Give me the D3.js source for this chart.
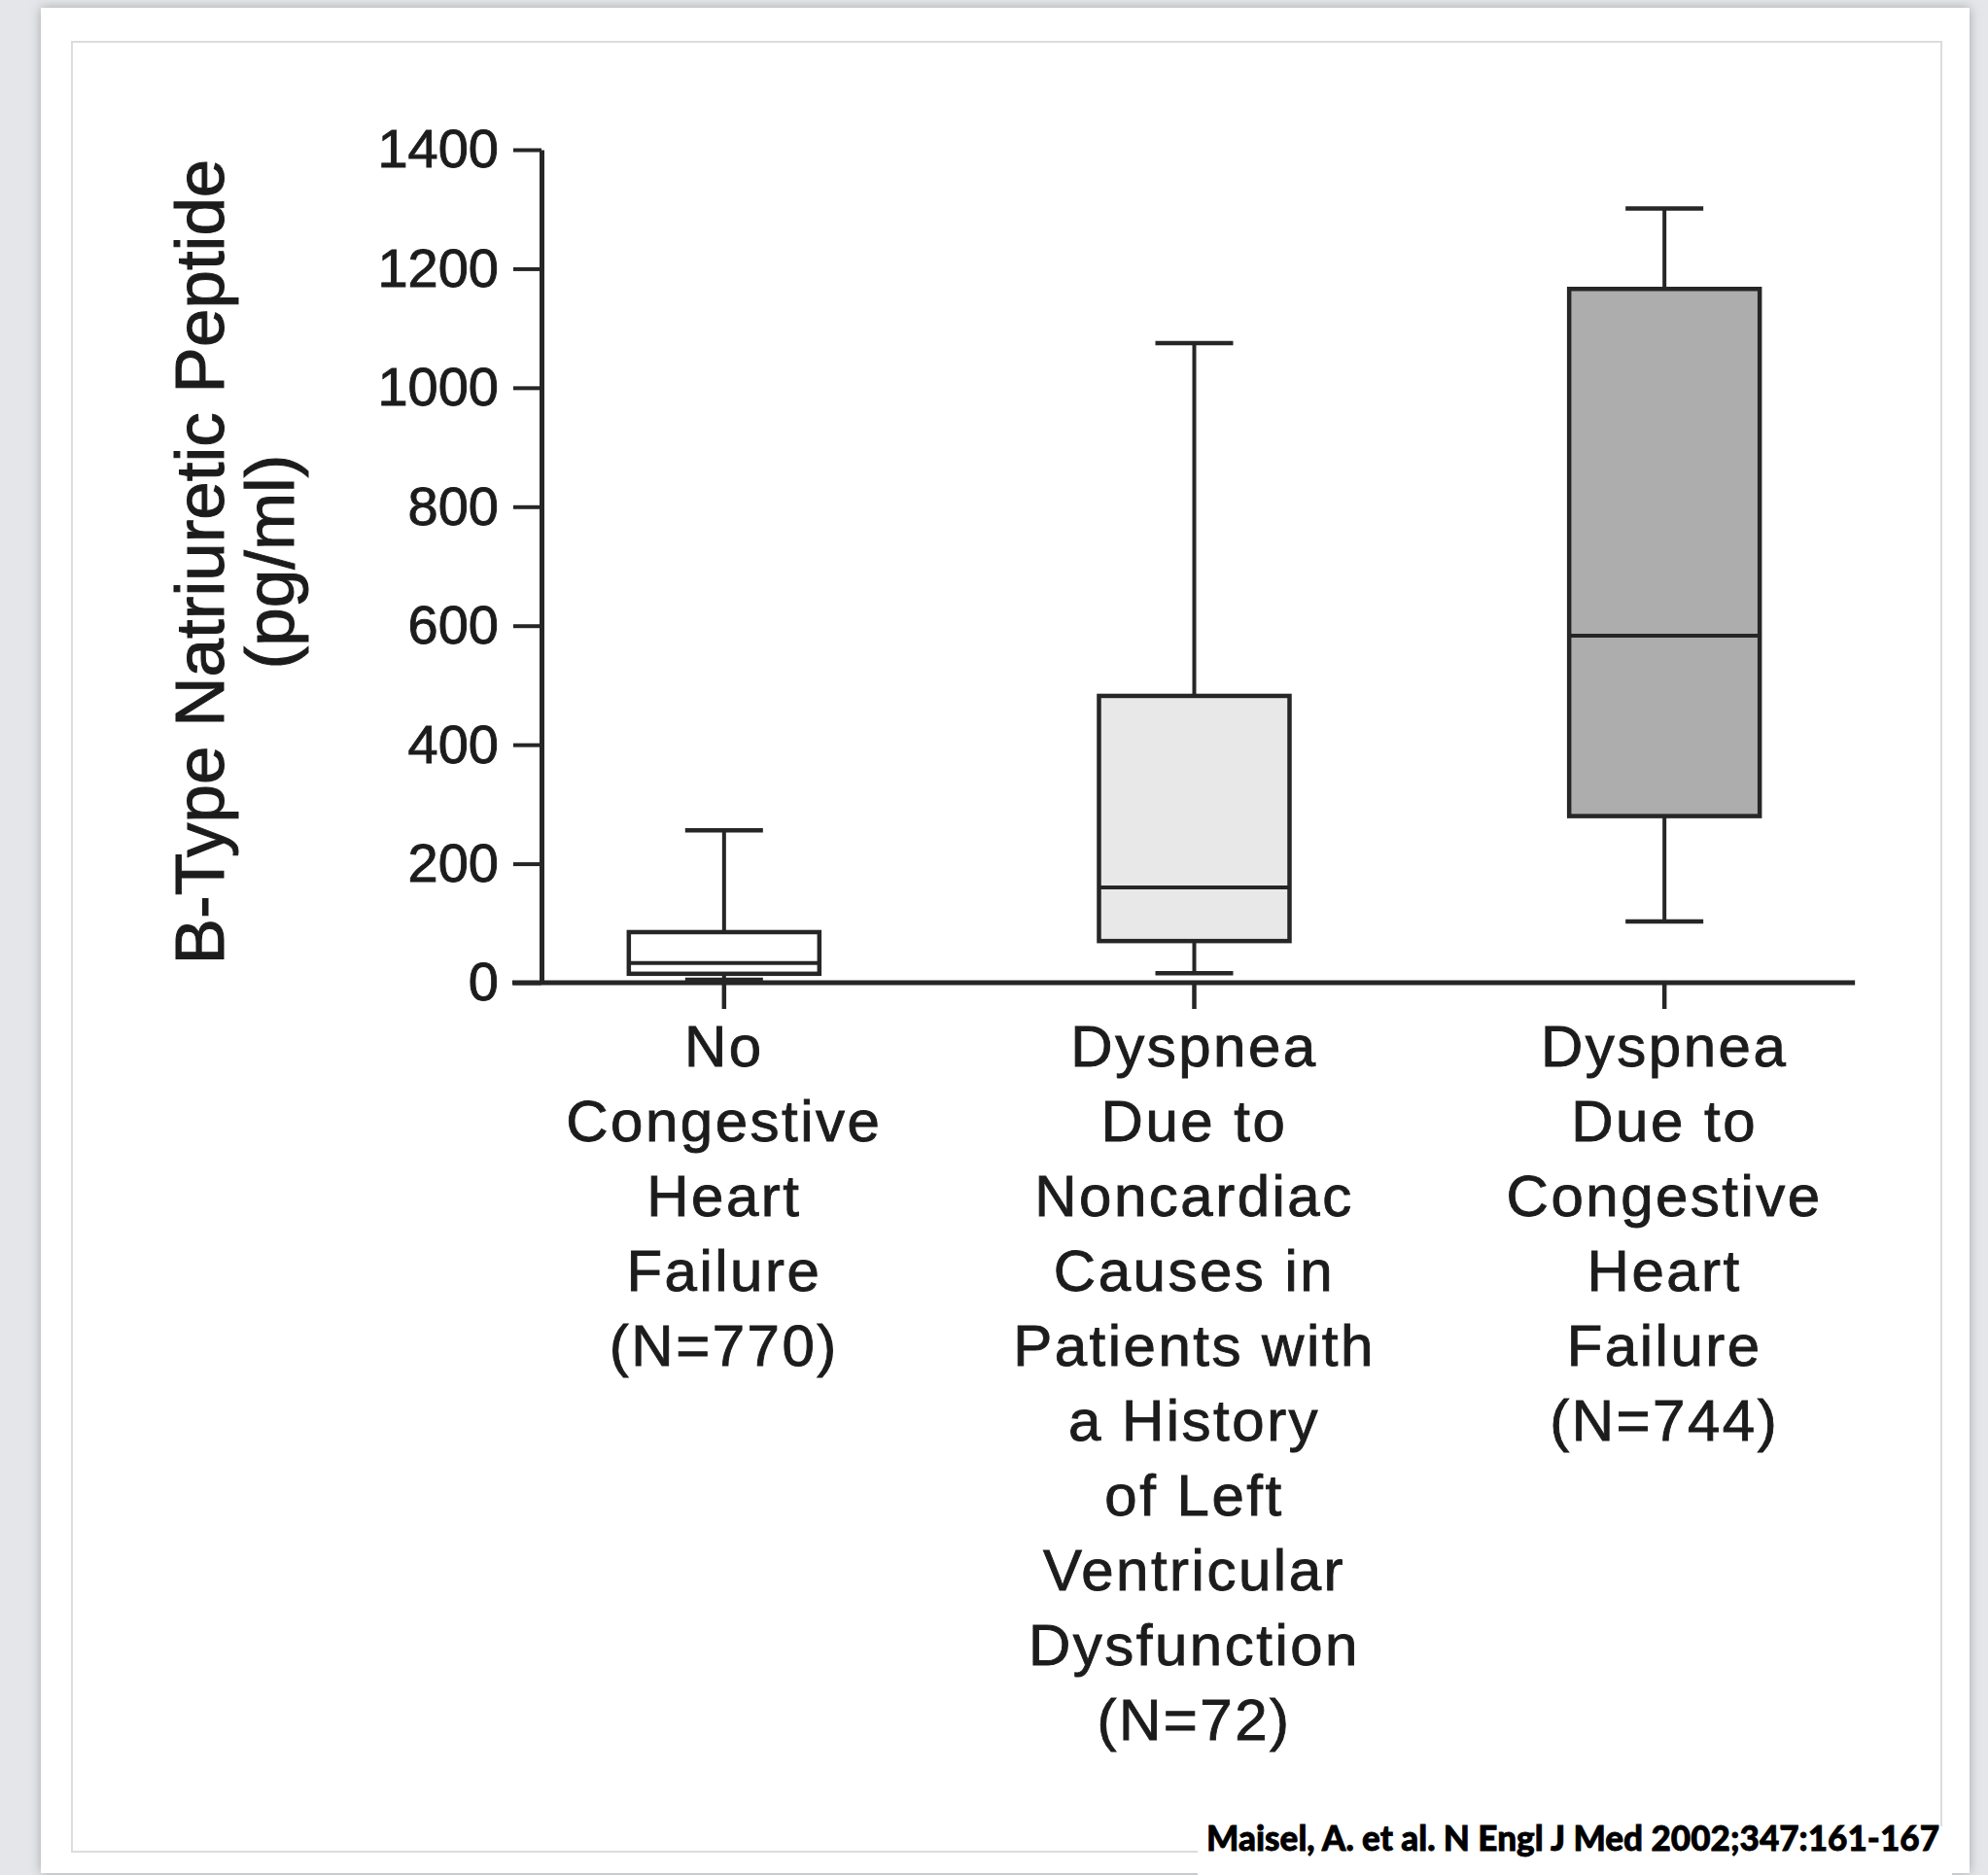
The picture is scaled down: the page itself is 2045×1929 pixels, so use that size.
<!DOCTYPE html>
<html>
<head>
<meta charset="utf-8">
<script src="https://cdn.jsdelivr.net/npm/d3@7"></script>
<style>
  html, body { margin: 0; padding: 0; background: #e4e6e9; }
  svg { display: block; }
</style>
</head>
<body>
<svg id="chart" width="2045" height="1929"></svg>
<script>
// Group labels, one entry per line of the wrapped axis label
const categoryLines = [
  ["No", "Congestive", "Heart", "Failure", "(N=770)"],
  ["Dyspnea", "Due to", "Noncardiac", "Causes in", "Patients with", "a History", "of Left", "Ventricular", "Dysfunction", "(N=72)"],
  ["Dyspnea", "Due to", "Congestive", "Heart", "Failure", "(N=744)"]
];
const categories = categoryLines.map(l => l.join(" "));

// Box-plot statistics, BNP in pg/ml
const whiskerLow  = [5,   16,   103];
const quartile1   = [15,  70,   280];
const medians     = [33,  160,  583];
const quartile3   = [85,  482,  1166];
const whiskerHigh = [256, 1075, 1301];

const boxFills = ["#ffffff", "#e8e8e8", "#adadad"];

const yTicks = [0, 200, 400, 600, 800, 1000, 1200, 1400];
const yTitle = ["B-Type Natriuretic Peptide", "(pg/ml)"];
const citation = "Maisel, A. et al. N Engl J Med 2002;347:161-167";

const svg = d3.select("#chart");
const W = 2045, H = 1929;
const sans = "'Liberation Sans', Arial, Helvetica, sans-serif";
const textInk = "#1c1c1c";

// page, card and inner frame
const defs = svg.append("defs");
const shadow = defs.append("filter").attr("id", "cardShadow")
  .attr("x", "-5%").attr("y", "-5%").attr("width", "110%").attr("height", "110%");
shadow.append("feDropShadow").attr("dx", 0).attr("dy", 0)
  .attr("stdDeviation", 6).attr("flood-color", "#000").attr("flood-opacity", 0.28);

svg.append("rect").attr("width", W).attr("height", H).attr("fill", "#e4e6e9");
svg.append("rect").attr("x", 42).attr("y", 8).attr("width", 1984).attr("height", 1919)
  .attr("fill", "#ffffff").attr("filter", "url(#cardShadow)");
svg.append("rect").attr("x", 74).attr("y", 43).attr("width", 1923).attr("height", 1862)
  .attr("fill", "none").attr("stroke", "#dcdcdc").attr("stroke-width", 2);

// scales
const plotLeft = 557, plotBottom = 1011, plotTop = 154;
const y = d3.scaleLinear().domain([0, 1400]).range([plotBottom, plotTop]);
const x = d3.scaleBand().domain(categories).range([503, 1954]);
const cx = d => x(d) + x.bandwidth() / 2;
const boxW = 196, capW = 80;

const ink = "#262626";

// y axis
const yAxis = svg.append("g")
  .attr("transform", `translate(${plotLeft},0)`)
  .call(d3.axisLeft(y).tickValues(yTicks).tickFormat(d3.format("d"))
    .tickSize(29).tickSizeOuter(0).tickPadding(15));
yAxis.select(".domain").attr("stroke", ink).attr("stroke-width", 5);
yAxis.selectAll(".tick line").attr("stroke", ink).attr("stroke-width", 4);
yAxis.selectAll(".tick text")
  .attr("fill", textInk)
  .attr("stroke", textInk).attr("stroke-width", 0.9)
  .style("font-family", sans)
  .style("font-size", "56px");

// y axis title
yTitle.forEach((t, i) => {
  svg.append("text")
    .attr("transform", `translate(${230 + i * 72},578) rotate(-90)`)
    .attr("text-anchor", "middle")
    .attr("fill", textInk)
    .attr("stroke", textInk).attr("stroke-width", 1)
    .style("font-family", sans)
    .style("font-size", "71px")
    .text(t);
});

// boxes
const stats = categories.map((c, i) => ({
  c, lo: whiskerLow[i], q1: quartile1[i], med: medians[i], q3: quartile3[i], hi: whiskerHigh[i], fill: boxFills[i]
}));

const boxes = svg.append("g").selectAll("g").data(stats).join("g");

// whisker stems
boxes.append("line")
  .attr("x1", d => cx(d.c)).attr("x2", d => cx(d.c))
  .attr("y1", d => y(d.hi)).attr("y2", d => y(d.q3))
  .attr("stroke", ink).attr("stroke-width", 4);
boxes.append("line")
  .attr("x1", d => cx(d.c)).attr("x2", d => cx(d.c))
  .attr("y1", d => y(d.q1)).attr("y2", d => y(d.lo))
  .attr("stroke", ink).attr("stroke-width", 4);
// caps
["hi", "lo"].forEach(k => {
  boxes.append("line")
    .attr("x1", d => cx(d.c) - capW / 2).attr("x2", d => cx(d.c) + capW / 2)
    .attr("y1", d => y(d[k])).attr("y2", d => y(d[k]))
    .attr("stroke", ink).attr("stroke-width", 4.5);
});
// box body
boxes.append("rect")
  .attr("x", d => cx(d.c) - boxW / 2).attr("width", boxW)
  .attr("y", d => y(d.q3)).attr("height", d => y(d.q1) - y(d.q3))
  .attr("fill", d => d.fill).attr("stroke", ink).attr("stroke-width", 4.5);
// median
boxes.append("line")
  .attr("x1", d => cx(d.c) - boxW / 2).attr("x2", d => cx(d.c) + boxW / 2)
  .attr("y1", d => y(d.med)).attr("y2", d => y(d.med))
  .attr("stroke", ink).attr("stroke-width", 4);

// x axis
const xAxis = svg.append("g")
  .attr("transform", `translate(0,${plotBottom})`)
  .call(d3.axisBottom(x).tickSize(27).tickFormat(""));
xAxis.select(".domain").remove();
xAxis.selectAll(".tick line").attr("stroke", ink).attr("stroke-width", 4.5);
svg.append("line")
  .attr("x1", plotLeft - 30).attr("x2", cx(categories[2]) + boxW)
  .attr("y1", y(0)).attr("y2", y(0))
  .attr("stroke", ink).attr("stroke-width", 5);

// category labels
categories.forEach((c, i) => {
  const t = svg.append("text")
    .attr("text-anchor", "middle")
    .attr("fill", textInk)
    .attr("stroke", textInk).attr("stroke-width", 0.9)
    .style("font-family", sans)
    .style("font-size", "60px")
    .style("letter-spacing", "2.5px");
  categoryLines[i].forEach((line, j) => {
    t.append("tspan").attr("x", cx(c)).attr("y", 1097 + j * 77).text(line);
  });
});

// citation
svg.append("rect").attr("x", 1232).attr("y", 1879).attr("width", 776).attr("height", 50).attr("fill", "#ffffff");
svg.append("text")
  .attr("x", 1995).attr("y", 1904)
  .attr("text-anchor", "end")
  .attr("fill", "#000")
  .attr("stroke", "#000").attr("stroke-width", 0.8)
  .attr("textLength", 754).attr("lengthAdjust", "spacingAndGlyphs")
  .style("font-family", "Lato, 'Open Sans', sans-serif")
  .style("font-weight", 900)
  .style("font-size", "36px")
  .text(citation);
</script>
</body>
</html>
